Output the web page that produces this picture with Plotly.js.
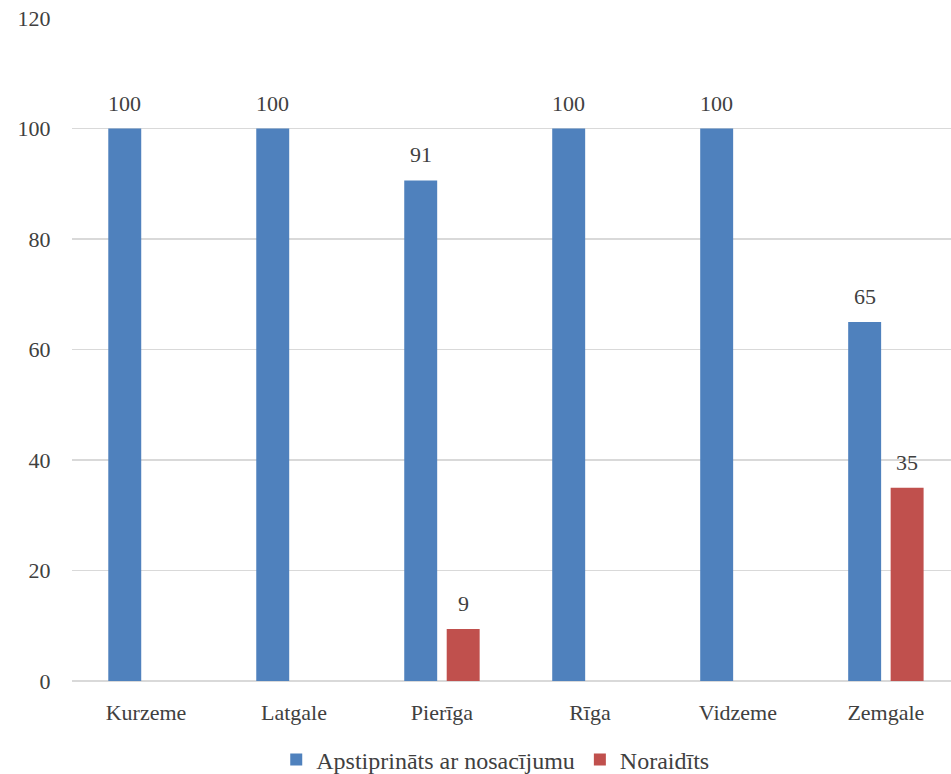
<!DOCTYPE html>
<html>
<head>
<meta charset="utf-8">
<script src="https://cdn.plot.ly/plotly-3.0.1.min.js"></script>
<style>html,body{margin:0;padding:0;background:#fff;}#chart{width:951px;height:774px;}</style>
</head>
<body>
<div id="chart"></div>
<script>
var categories = ["Kurzeme", "Latgale", "Pierīga", "Rīga", "Vidzeme", "Zemgale"];
var approved = [100, 100, 90.6, 100, 100, 65];
var rejected = [null, null, 9.4, null, null, 35];
var seriesNames = ["Apstiprināts ar nosacījumu", "Noraidīts"];
var yTicks = [0, 20, 40, 60, 80, 100, 120];

var textColor = "#404040";
var fontFam = "Liberation Serif";
var colors = ["#4F81BD", "#C0504D"];
var slotOffset = 0.1436;

var traces = [
  {type: "bar", name: seriesNames[0], x: categories, y: approved, marker: {color: colors[0]}, hoverinfo: "none"},
  {type: "bar", name: seriesNames[1], x: categories, y: rejected, marker: {color: colors[1]}, hoverinfo: "none"}
];

var annotations = [];
[approved, rejected].forEach(function (arr, si) {
  arr.forEach(function (v, i) {
    if (v === null) return;
    annotations.push({
      xref: "x", yref: "y",
      x: i + (si === 0 ? -slotOffset : slotOffset),
      y: v,
      text: String(Math.round(v)),
      showarrow: false,
      yanchor: "bottom",
      yshift: 11,
      font: {family: fontFam, size: 22, color: textColor}
    });
  });
});

var layout = {
  width: 951, height: 774,
  margin: {l: 72, r: 0, t: 18, b: 93, autoexpand: false},
  paper_bgcolor: "#ffffff",
  plot_bgcolor: "#ffffff",
  font: {family: fontFam, size: 22, color: textColor},
  barmode: "group",
  bargap: 0.426,
  bargroupgap: 0.224,
  showlegend: true,
  legend: {
    orientation: "h",
    x: 0.4815, xanchor: "center",
    y: -0.119, yanchor: "middle",
    font: {family: fontFam, size: 24, color: textColor},
    itemwidth: 30,
    traceorder: "normal"
  },
  xaxis: {
    type: "category",
    range: [-0.5, 5.44],
    showgrid: false,
    showline: false,
    zeroline: false,
    ticks: "outside", ticklen: 12, tickcolor: "rgba(0,0,0,0)",
    tickfont: {family: fontFam, size: 22, color: textColor}
  },
  yaxis: {
    range: [0, 120],
    tickvals: yTicks,
    ticktext: yTicks.map(String),
    showgrid: true,
    gridcolor: "#d9d9d9",
    gridwidth: 1.3,
    zeroline: true,
    zerolinecolor: "#d9d9d9",
    zerolinewidth: 1.3,
    showline: false,
    ticks: "outside", ticklen: 16, tickcolor: "rgba(0,0,0,0)",
    tickfont: {family: fontFam, size: 22, color: textColor}
  },
  annotations: annotations
};

Plotly.newPlot("chart", traces, layout, {staticPlot: true, displayModeBar: false});
</script>
</body>
</html>
